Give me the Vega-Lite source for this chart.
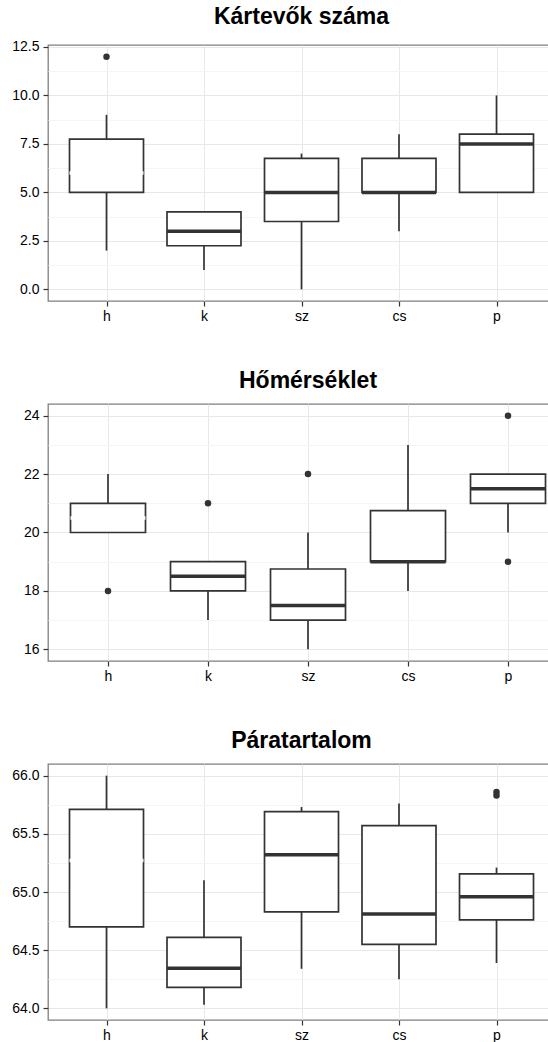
{
  "$schema": "https://vega.github.io/schema/vega-lite/v6.json",
  "padding": {"left": 11, "top": 5, "right": 0, "bottom": 0},
  "background": "white",
  "config": {
    "view": {"stroke": "#7f7f7f", "strokeWidth": 1.3},
    "title": {"font": "Liberation Sans", "fontSize": 23, "fontWeight": "bold", "color": "black", "anchor": "middle", "offset": 11},
    "axis": {"labelFont": "Liberation Sans", "labelFontSize": 14, "labelColor": "black", "tickColor": "#333333", "tickSize": 5, "tickWidth": 1.2, "domain": false, "title": null, "gridColor": "#e8e8e8", "gridWidth": 1}
  },
  "datasets": {
    "stats": [
      {"panel": "K", "cat": "h", "lo": 2, "q1": 5, "med": 6, "q3": 7.75, "hi": 9},
      {"panel": "K", "cat": "k", "lo": 1, "q1": 2.25, "med": 3, "q3": 4, "hi": 4},
      {"panel": "K", "cat": "sz", "lo": 0, "q1": 3.5, "med": 5, "q3": 6.75, "hi": 7},
      {"panel": "K", "cat": "cs", "lo": 3, "q1": 5, "med": 5, "q3": 6.75, "hi": 8},
      {"panel": "K", "cat": "p", "lo": 5, "q1": 5, "med": 7.5, "q3": 8, "hi": 10},
      {"panel": "H", "cat": "h", "lo": 20, "q1": 20, "med": 20.5, "q3": 21, "hi": 22},
      {"panel": "H", "cat": "k", "lo": 17, "q1": 18, "med": 18.5, "q3": 19, "hi": 19},
      {"panel": "H", "cat": "sz", "lo": 16, "q1": 17, "med": 17.5, "q3": 18.75, "hi": 20},
      {"panel": "H", "cat": "cs", "lo": 18, "q1": 19, "med": 19, "q3": 20.75, "hi": 23},
      {"panel": "H", "cat": "p", "lo": 20, "q1": 21, "med": 21.5, "q3": 22, "hi": 22},
      {"panel": "P", "cat": "h", "lo": 64.0, "q1": 64.70, "med": 65.27, "q3": 65.71, "hi": 66.0},
      {"panel": "P", "cat": "k", "lo": 64.03, "q1": 64.18, "med": 64.345, "q3": 64.61, "hi": 65.10},
      {"panel": "P", "cat": "sz", "lo": 64.34, "q1": 64.83, "med": 65.32, "q3": 65.69, "hi": 65.73},
      {"panel": "P", "cat": "cs", "lo": 64.25, "q1": 64.55, "med": 64.81, "q3": 65.57, "hi": 65.76},
      {"panel": "P", "cat": "p", "lo": 64.39, "q1": 64.76, "med": 64.96, "q3": 65.155, "hi": 65.21}
    ],
    "outliers": [
      {"panel": "K", "cat": "h", "value": 12},
      {"panel": "H", "cat": "h", "value": 18},
      {"panel": "H", "cat": "k", "value": 21},
      {"panel": "H", "cat": "sz", "value": 22},
      {"panel": "H", "cat": "p", "value": 24},
      {"panel": "H", "cat": "p", "value": 19},
      {"panel": "P", "cat": "p", "value": 65.86},
      {"panel": "P", "cat": "p", "value": 65.83}
    ]
  },
  "concat": [
    {
      "width": 507, "height": 256,
      "title": {"text": "Kártevők száma"},
      "resolve": {"axis": {"y": "independent"}},
      "layer": [
        {
          "data": {"name": "stats"}, "transform": [{"filter": "datum.panel === 'K'"}],
          "mark": {"type": "rule", "color": "#333333", "strokeWidth": 1.7},
          "encoding": {
            "x": {"field": "cat", "type": "nominal", "sort": null, "scale": {"type": "point", "padding": 0.6, "domain": ["h", "k", "sz", "cs", "p"]}, "axis": {"labelAngle": 0, "grid": true, "labelPadding": 3}},
            "y": {"field": "lo", "type": "quantitative", "scale": {"domain": [-0.6, 12.6], "nice": false, "zero": false}, "axis": {"orient": "left", "values": [1.25, 3.75, 6.25, 8.75, 11.25], "grid": true, "gridColor": "#f5f5f5", "labels": false, "ticks": false, "minExtent": 0, "maxExtent": 0}},
            "y2": {"field": "hi"}
          }
        },
        {
          "data": {"name": "stats"}, "transform": [{"filter": "datum.panel === 'K'"}],
          "mark": {"type": "bar", "size": 74, "fill": "white", "stroke": "#333333", "strokeWidth": 1.7},
          "encoding": {
            "x": {"field": "cat", "type": "nominal", "sort": null},
            "y": {"field": "q1", "type": "quantitative", "axis": {"orient": "left", "values": [0, 2.5, 5, 7.5, 10, 12.5], "format": ".1f", "grid": true, "labelPadding": 4}},
            "y2": {"field": "q3"}
          }
        },
        {
          "data": {"name": "stats"}, "transform": [{"filter": "datum.panel === 'K'"}],
          "mark": {"type": "tick", "size": 74, "thickness": 3.5, "opacity": 1},
          "encoding": {
            "x": {"field": "cat", "type": "nominal", "sort": null},
            "y": {"field": "med", "type": "quantitative", "axis": null},
            "color": {"field": "cat", "type": "nominal", "legend": null, "scale": {"domain": ["h", "k", "sz", "cs", "p"], "range": ["white", "#333333", "#333333", "#333333", "#333333"]}}
          }
        },
        {
          "data": {"name": "outliers"}, "transform": [{"filter": "datum.panel === 'K'"}],
          "mark": {"type": "circle", "size": 42, "color": "#333333", "opacity": 1},
          "encoding": {
            "x": {"field": "cat", "type": "nominal", "sort": null},
            "y": {"field": "value", "type": "quantitative", "axis": null}
          }
        }
      ]
    },
    {
      "width": 520, "height": 257,
      "title": {"text": "Hőmérséklet"},
      "resolve": {"axis": {"y": "independent"}},
      "layer": [
        {
          "data": {"name": "stats"}, "transform": [{"filter": "datum.panel === 'H'"}],
          "mark": {"type": "rule", "color": "#333333", "strokeWidth": 1.7},
          "encoding": {
            "x": {"field": "cat", "type": "nominal", "sort": null, "scale": {"type": "point", "padding": 0.6, "domain": ["h", "k", "sz", "cs", "p"]}, "axis": {"labelAngle": 0, "grid": true, "labelPadding": 3}},
            "y": {"field": "lo", "type": "quantitative", "scale": {"domain": [15.6, 24.4], "nice": false, "zero": false}, "axis": {"orient": "left", "values": [17, 19, 21, 23], "grid": true, "gridColor": "#f5f5f5", "labels": false, "ticks": false, "minExtent": 0, "maxExtent": 0}},
            "y2": {"field": "hi"}
          }
        },
        {
          "data": {"name": "stats"}, "transform": [{"filter": "datum.panel === 'H'"}],
          "mark": {"type": "bar", "size": 75, "fill": "white", "stroke": "#333333", "strokeWidth": 1.7},
          "encoding": {
            "x": {"field": "cat", "type": "nominal", "sort": null},
            "y": {"field": "q1", "type": "quantitative", "axis": {"orient": "left", "values": [16, 18, 20, 22, 24], "grid": true, "labelPadding": 4}},
            "y2": {"field": "q3"}
          }
        },
        {
          "data": {"name": "stats"}, "transform": [{"filter": "datum.panel === 'H'"}],
          "mark": {"type": "tick", "size": 75, "thickness": 3.5, "opacity": 1},
          "encoding": {
            "x": {"field": "cat", "type": "nominal", "sort": null},
            "y": {"field": "med", "type": "quantitative", "axis": null},
            "color": {"field": "cat", "type": "nominal", "legend": null, "scale": {"domain": ["h", "k", "sz", "cs", "p"], "range": ["white", "#333333", "#333333", "#333333", "#333333"]}}
          }
        },
        {
          "data": {"name": "outliers"}, "transform": [{"filter": "datum.panel === 'H'"}],
          "mark": {"type": "circle", "size": 42, "color": "#333333", "opacity": 1},
          "encoding": {
            "x": {"field": "cat", "type": "nominal", "sort": null},
            "y": {"field": "value", "type": "quantitative", "axis": null}
          }
        }
      ]
    },
    {
      "width": 507, "height": 256,
      "title": {"text": "Páratartalom"},
      "resolve": {"axis": {"y": "independent"}},
      "layer": [
        {
          "data": {"name": "stats"}, "transform": [{"filter": "datum.panel === 'P'"}],
          "mark": {"type": "rule", "color": "#333333", "strokeWidth": 1.7},
          "encoding": {
            "x": {"field": "cat", "type": "nominal", "sort": null, "scale": {"type": "point", "padding": 0.6, "domain": ["h", "k", "sz", "cs", "p"]}, "axis": {"labelAngle": 0, "grid": true, "labelPadding": 3}},
            "y": {"field": "lo", "type": "quantitative", "scale": {"domain": [63.9, 66.1], "nice": false, "zero": false}, "axis": {"orient": "left", "values": [64.25, 64.75, 65.25, 65.75], "grid": true, "gridColor": "#f5f5f5", "labels": false, "ticks": false, "minExtent": 0, "maxExtent": 0}},
            "y2": {"field": "hi"}
          }
        },
        {
          "data": {"name": "stats"}, "transform": [{"filter": "datum.panel === 'P'"}],
          "mark": {"type": "bar", "size": 74, "fill": "white", "stroke": "#333333", "strokeWidth": 1.7},
          "encoding": {
            "x": {"field": "cat", "type": "nominal", "sort": null},
            "y": {"field": "q1", "type": "quantitative", "axis": {"orient": "left", "values": [64, 64.5, 65, 65.5, 66], "format": ".1f", "grid": true, "labelPadding": 4}},
            "y2": {"field": "q3"}
          }
        },
        {
          "data": {"name": "stats"}, "transform": [{"filter": "datum.panel === 'P'"}],
          "mark": {"type": "tick", "size": 74, "thickness": 3.5, "opacity": 1},
          "encoding": {
            "x": {"field": "cat", "type": "nominal", "sort": null},
            "y": {"field": "med", "type": "quantitative", "axis": null},
            "color": {"field": "cat", "type": "nominal", "legend": null, "scale": {"domain": ["h", "k", "sz", "cs", "p"], "range": ["white", "#333333", "#333333", "#333333", "#333333"]}}
          }
        },
        {
          "data": {"name": "outliers"}, "transform": [{"filter": "datum.panel === 'P'"}],
          "mark": {"type": "circle", "size": 42, "color": "#333333", "opacity": 1},
          "encoding": {
            "x": {"field": "cat", "type": "nominal", "sort": null},
            "y": {"field": "value", "type": "quantitative", "axis": null}
          }
        }
      ]
    }
  ],
  "columns": 1,
  "align": "none",
  "spacing": 45,
  "resolve": {"scale": {"color": "independent"}}
}
